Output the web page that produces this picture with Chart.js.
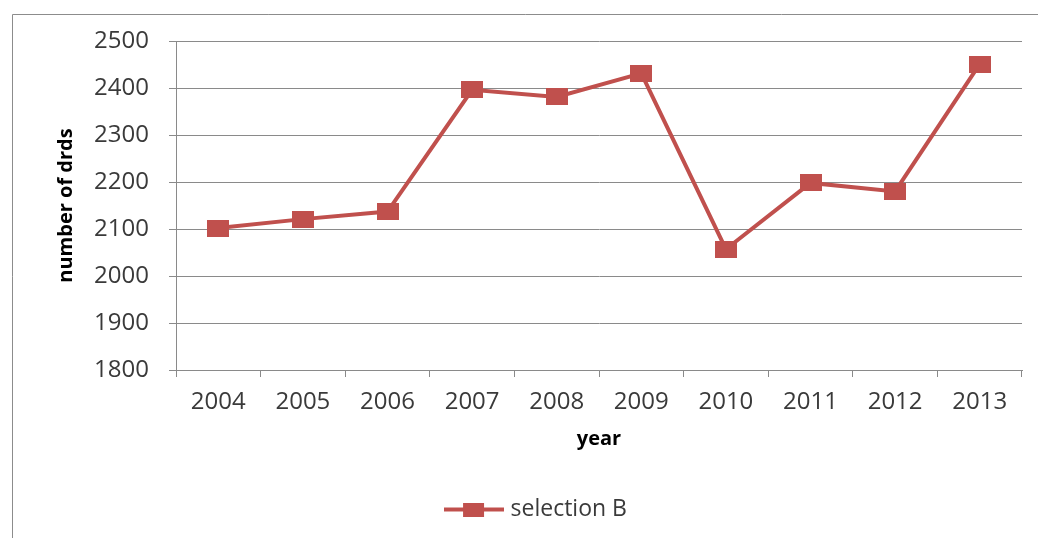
<!DOCTYPE html>
<html>
<head>
<meta charset="utf-8">
<script src="https://cdn.jsdelivr.net/npm/chart.js@4"></script>
<style>
  html, body { margin: 0; padding: 0; background: #fff; }
  #wrap { width: 1038px; height: 538px; position: relative; }
</style>
</head>
<body>
<div id="wrap"><canvas id="c"></canvas></div>
<script>
const years = ['2004','2005','2006','2007','2008','2009','2010','2011','2012','2013'];
const selectionB = [2102, 2121, 2137, 2396, 2381, 2431, 2057, 2198, 2180, 2451];
const seriesName = 'selection B';
const yAxisTitle = 'number of drds';
const xAxisTitle = 'year';

const RED = '#C0504D';
const GRID = '#8a8a8a';
const TEXT = '#3a3a3a';

// marker image (slightly wider than tall, like the reference)
const marker = document.createElement('canvas');
marker.width = 22; marker.height = 17;
(function(){ const g = marker.getContext('2d'); g.fillStyle = RED; g.fillRect(0,0,22,17); })();

// legend symbol: line + square
const legendSym = document.createElement('canvas');
legendSym.width = 60; legendSym.height = 14;
(function(){
  const g = legendSym.getContext('2d');
  g.fillStyle = RED;
  g.fillRect(0, 5, 60, 4);
  g.fillRect(19, 0, 21, 14);
})();

const frame = {
  id: 'frame',
  beforeDraw(chart) {
    const ctx = chart.ctx;
    ctx.save();
    ctx.strokeStyle = '#8c8c8c';
    ctx.lineWidth = 1;
    ctx.beginPath();
    ctx.moveTo(12.5, 538);
    ctx.lineTo(12.5, 14.5);
    ctx.lineTo(1038, 14.5);
    ctx.stroke();
    ctx.restore();
  }
};

new Chart(document.getElementById('c'), {
  type: 'line',
  data: {
    labels: years,
    datasets: [{
      label: seriesName,
      data: selectionB,
      borderColor: RED,
      backgroundColor: RED,
      borderWidth: 4,
      pointStyle: marker,
      pointRadius: 10,
      pointHoverRadius: 10,
      tension: 0,
      fill: false
    }]
  },
  options: {
    responsive: true,
    maintainAspectRatio: false,
    animation: false,
    events: [],
    layout: { padding: { left: 54, right: 16, top: 41, bottom: 7 } },
    plugins: {
      tooltip: { enabled: false },
      legend: {
        position: 'bottom',
        labels: {
          usePointStyle: true,
          pointStyleWidth: 50,
          padding: 10,
          color: TEXT,
          font: { family: 'Open Sans', size: 23 },
          generateLabels(chart) {
            return chart.data.datasets.map((ds, i) => ({
              text: ds.label,
              pointStyle: legendSym,
              fillStyle: RED,
              strokeStyle: RED,
              lineWidth: 0,
              fontColor: TEXT,
              datasetIndex: i,
              hidden: false
            }));
          }
        }
      }
    },
    scales: {
      x: {
        offset: true,
        grid: {
          offset: true,
          drawOnChartArea: false,
          drawTicks: true,
          tickLength: 7,
          color: GRID
        },
        border: { display: true, color: GRID, width: 1 },
        ticks: {
          color: TEXT,
          font: { family: 'Open Sans', size: 24 },
          padding: 11,
          maxRotation: 0,
          autoSkip: false
        },
        title: {
          display: true,
          text: xAxisTitle,
          color: '#000',
          font: { family: 'Open Sans', size: 20, weight: 'bold' },
          padding: { top: 0, bottom: 37 }
        },
        afterFit(scale) { scale.height = 118; }
      },
      y: {
        min: 1800,
        max: 2500,
        grid: {
          drawTicks: true,
          tickLength: 7,
          color: GRID,
          lineWidth: 1
        },
        border: { display: true, color: GRID, width: 1 },
        ticks: {
          stepSize: 100,
          color: TEXT,
          font: { family: 'Open Sans', size: 24 },
          padding: 20,
          callback: (v) => String(v)
        },
        title: {
          display: true,
          text: yAxisTitle,
          color: '#000',
          font: { family: 'Open Sans', size: 20, weight: 'bold' },
          padding: 0
        },
        afterFit(scale) { scale.width = 122; }
      }
    }
  },
  plugins: [frame]
});
</script>
</body>
</html>
